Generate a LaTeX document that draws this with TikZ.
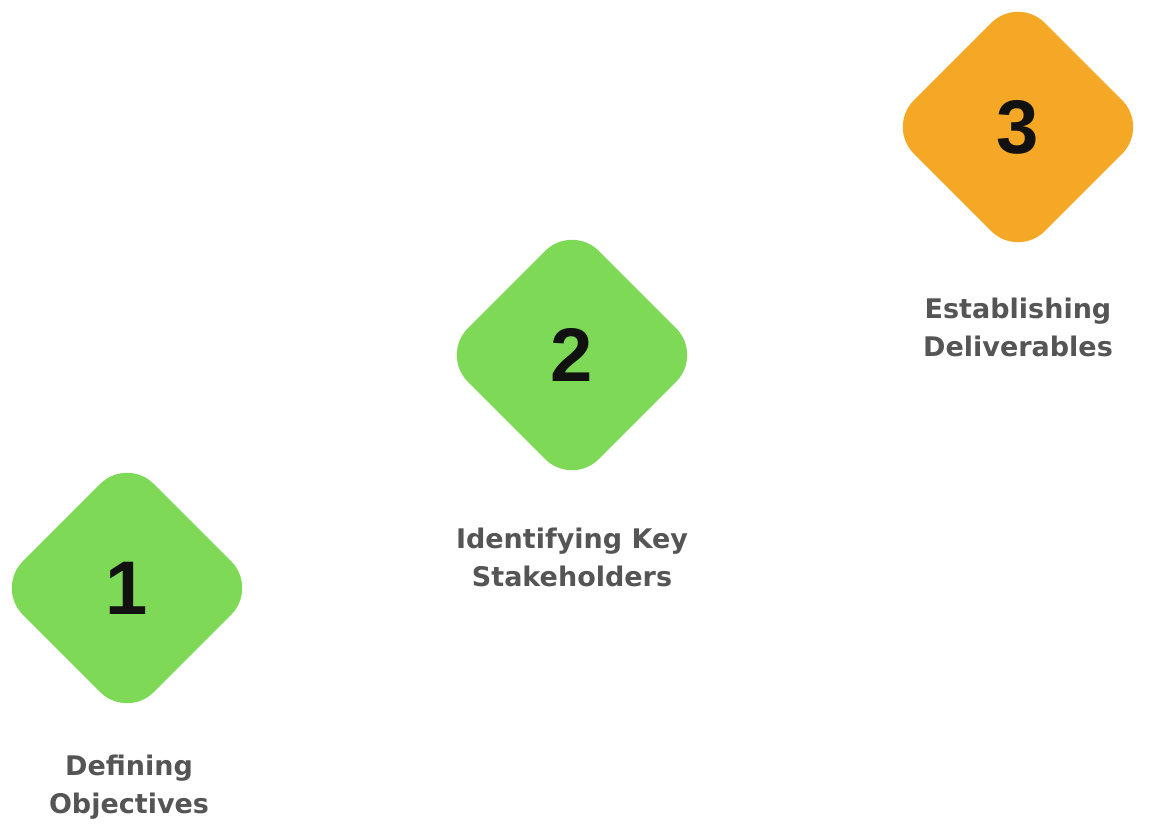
\documentclass[tikz,border=0pt]{standalone}
\usepackage{fontspec}
\setmainfont{DejaVu Sans}
\newfontfamily\numfont{Liberation Sans}
\usetikzlibrary{shapes.geometric}
\definecolor{stepgreen}{HTML}{7ED957}
\definecolor{steporange}{HTML}{F4A825}
\definecolor{labelgray}{HTML}{555555}
\definecolor{numblack}{HTML}{111111}
\tikzset{
  stepdiamond/.style={diamond, minimum width=262pt, minimum height=262pt, inner sep=0pt,
    rounded corners=38pt, draw=none, text=numblack,
    font=\numfont\fontsize{76}{80}\selectfont\bfseries},
  steplabel/.style={align=center, text=labelgray, inner sep=0pt,
    font=\fontsize{27}{38}\selectfont\bfseries}
}
\begin{document}
\begin{tikzpicture}[x=1pt,y=-1pt]
\useasboundingbox (0,0) rectangle (1160,835);
\node[stepdiamond, fill=stepgreen] (d1) at (127,588) {1};
\node[stepdiamond, fill=stepgreen] (d2) at (572,355) {2};
\node[stepdiamond, fill=steporange] (d3) at (1018,127) {3};
\node[steplabel] (l1) at (129,787) {Defining\\Objectives};
\node[steplabel] (l2) at (572,557) {Identifying Key\\Stakeholders};
\node[steplabel] (l3) at (1018,327) {Establishing\\Deliverables};
\end{tikzpicture}
\end{document}
